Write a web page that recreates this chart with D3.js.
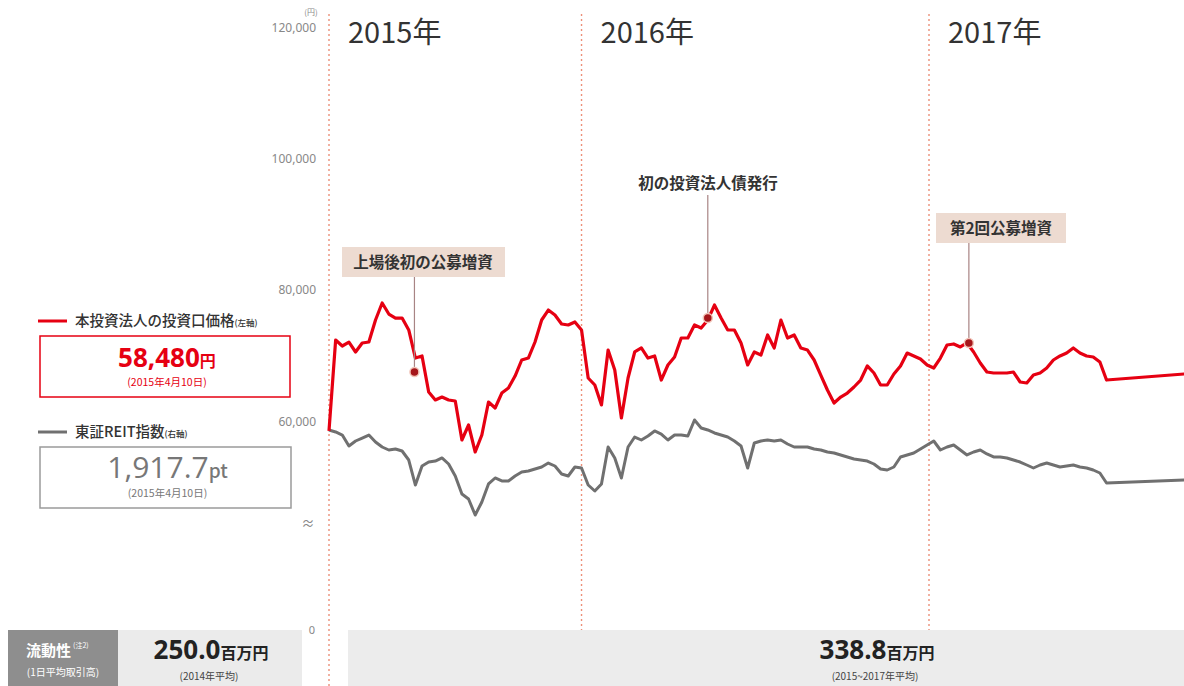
<!DOCTYPE html>
<html><head><meta charset="utf-8">
<script src="https://cdn.jsdelivr.net/npm/d3@7"></script>
<style>
body{margin:0;background:#fff;}
svg{display:block;font-family:"Noto Sans CJK JP","Noto Sans",sans-serif;}
</style></head><body>
<svg id="c" width="1184" height="686"></svg>
<script>
// ---------- data ----------
const dates = [
"2015-04-10","2015-04-17","2015-04-24","2015-05-01","2015-05-08","2015-05-15","2015-05-22","2015-05-29","2015-06-05","2015-06-12",
"2015-06-19","2015-06-26","2015-07-03","2015-07-10","2015-07-17","2015-07-24","2015-07-31","2015-08-07","2015-08-14","2015-08-21",
"2015-08-28","2015-09-04","2015-09-11","2015-09-18","2015-09-25","2015-10-02","2015-10-09","2015-10-16","2015-10-23","2015-10-30",
"2015-11-06","2015-11-13","2015-11-20","2015-11-27","2015-12-04","2015-12-11","2015-12-18","2015-12-25","2016-01-01","2016-01-08",
"2016-01-15","2016-01-22","2016-01-29","2016-02-05","2016-02-12","2016-02-19","2016-02-26","2016-03-04","2016-03-11","2016-03-18",
"2016-03-25","2016-04-01","2016-04-08","2016-04-15","2016-04-22","2016-04-29","2016-05-06","2016-05-13","2016-05-20","2016-05-27",
"2016-06-03","2016-06-10","2016-06-17","2016-06-24","2016-07-01","2016-07-08","2016-07-15","2016-07-22","2016-07-29","2016-08-05",
"2016-08-12","2016-08-19","2016-08-26","2016-09-02","2016-09-09","2016-09-16","2016-09-23","2016-09-30","2016-10-07","2016-10-14",
"2016-10-21","2016-10-28","2016-11-04","2016-11-11","2016-11-18","2016-11-25","2016-12-02","2016-12-09","2016-12-16","2016-12-23",
"2016-12-30","2017-01-06","2017-01-13","2017-01-20","2017-01-27","2017-02-03","2017-02-10","2017-02-17","2017-02-24","2017-03-03",
"2017-03-10","2017-03-17","2017-03-24","2017-03-31","2017-04-07","2017-04-14","2017-04-21","2017-04-28","2017-05-05","2017-05-12",
"2017-05-19","2017-05-26","2017-06-02","2017-06-09","2017-06-16","2017-06-23","2017-06-30","2017-07-07","2017-10-06"
];
// 本投資法人の投資口価格 (円, left axis)
const unitPrice = [
58480,72330,71420,72000,70510,71880,72030,75380,77970,76290,
75680,75680,73860,69590,69900,64420,63200,63650,63200,63050,
57110,59390,55280,57870,62890,61980,64260,65030,66850,69290,
69590,72030,75380,76900,76140,74770,74620,75080,73860,66550,
65480,62440,70810,67770,60460,66550,70510,71120,69590,69900,
66240,68530,69750,72640,72640,74620,74160,75380,77660,75680,
73860,73860,71880,68530,70510,70050,73100,71120,75380,72640,
73100,71120,70810,69290,67000,64720,62740,63650,64260,65180,
66240,68380,67310,65480,65480,67160,68380,70350,69900,69440,
68530,68070,69590,71570,71730,71270,71880,70510,68830,67460,
67310,67310,67310,67460,65940,65790,67000,67310,68070,69290,
69900,70350,71120,70350,69900,69750,68980,66240,67260
];
// 東証REIT指数 (pt, right axis)
const reitIndex = [
1917.7,1910.4,1899.5,1859.9,1877.9,1888.7,1899.5,1874.3,1856.3,1845.5,
1849.1,1841.9,1809.4,1719.3,1787.8,1802.2,1805.8,1816.7,1795.0,1751.8,
1686.9,1668.9,1611.2,1658.1,1723.0,1744.6,1733.8,1733.8,1751.8,1766.2,
1769.8,1777.0,1784.2,1798.6,1787.8,1759.0,1751.8,1784.2,1780.6,1719.3,
1697.7,1723.0,1856.3,1816.7,1744.6,1856.3,1892.3,1881.5,1895.9,1914.0,
1903.1,1881.5,1899.5,1899.5,1895.9,1953.6,1924.8,1917.6,1906.8,1899.5,
1892.3,1877.9,1859.9,1780.6,1870.7,1877.9,1881.5,1877.9,1881.5,1867.1,
1856.3,1856.3,1856.3,1849.1,1845.5,1838.3,1834.7,1827.5,1820.3,1813.0,
1809.4,1805.8,1795.0,1777.0,1773.4,1784.2,1820.3,1827.5,1834.7,1849.1,
1863.5,1877.9,1845.5,1856.3,1863.5,1845.5,1827.5,1838.3,1845.5,1831.1,
1820.3,1820.3,1816.7,1809.4,1802.2,1791.4,1780.6,1791.4,1798.6,1791.4,
1784.2,1787.8,1791.4,1784.2,1780.6,1773.4,1762.6,1726.6,1738.6
];
const yTicks = [60000, 80000, 100000, 120000];
const yUnit = "(円)";
const yearStarts = ["2015-04-10", "2016-01-01", "2017-01-01"];
const yearLabels = ["2015年", "2016年", "2017年"];
const eventLabels = ["上場後初の公募増資", "初の投資法人債発行", "第2回公募増資"];
const eventDates = ["2015-07-09", "2016-05-13", "2017-02-12"];
const eventValues = [67460, 75680, 71880];
const legendNames = ["本投資法人の投資口価格", "東証REIT指数"];
const legendAxes = ["(左軸)", "(右軸)"];
const legendValues = ["58,480", "1,917.7"];
const legendUnits = ["円", "pt"];
const legendDate = "(2015年4月10日)";
const liquidityTitle = ["流動性", "(注2)", "(1日平均取引高)"];
const liquidityValues = ["250.0", "338.8"];
const liquidityUnit = "百万円";
const liquidityPeriods = ["(2014年平均)", "(2015~2017年平均)"];

// ---------- drawing ----------
const parse = d3.timeParse("%Y-%m-%d");
const svg = d3.select("#c");
const RED = "#e60012", GRAY = "#707070";

const x = d3.scaleTime().domain([parse("2015-04-10"), parse("2017-01-01")]).range([329, 929]);
const y = d3.scaleLinear().domain([60000, 120000]).range([421, 27]);
const yR = d3.scaleLinear().domain([1950, 3370]).range([421, 27]);

// year separators
svg.append("g").selectAll("line").data(yearStarts).join("line")
  .attr("x1", d => x(parse(d))).attr("x2", d => x(parse(d)))
  .attr("y1", 14).attr("y2", 686)
  .attr("stroke", "#ec8f78").attr("stroke-width", 1.4).attr("stroke-dasharray", "2,3");

svg.append("g").selectAll("text").data(yearLabels).join("text")
  .attr("x", (d, i) => x(parse(yearStarts[i])) + 19).attr("y", 43)
  .attr("font-size", 29).attr("fill", "#333").text(d => d);

// axis
const ax = svg.append("g").attr("transform", "translate(319,0)")
  .call(d3.axisLeft(y).tickValues(yTicks).tickSize(0).tickPadding(3).tickFormat(d3.format(",")));
ax.select(".domain").remove();
ax.selectAll("text").attr("font-size", 12).attr("fill", "#888")
  .attr("font-family", "'Noto Sans',sans-serif").attr("dy", "0.35em");
svg.append("text").attr("x", 311).attr("y", 15).attr("text-anchor", "middle")
  .attr("font-size", 8).attr("fill", "#888").text(yUnit);
svg.append("text").attr("x", 308).attr("y", 528).attr("text-anchor", "middle")
  .attr("font-size", 13).attr("fill", "#888").text("≈");
svg.append("text").attr("x", 312).attr("y", 634).attr("text-anchor", "middle")
  .attr("font-size", 11).attr("fill", "#888").attr("font-family", "'Noto Sans',sans-serif").text("0");

// lines
const grayData = dates.map((d, i) => ({ d: parse(d), v: reitIndex[i] }));
const redData = dates.map((d, i) => ({ d: parse(d), v: unitPrice[i] }));
svg.append("path").datum(grayData)
  .attr("d", d3.line().x(p => x(p.d)).y(p => yR(p.v)))
  .attr("fill", "none").attr("stroke", GRAY).attr("stroke-width", 3).attr("stroke-linejoin", "round");
svg.append("path").datum(redData)
  .attr("d", d3.line().x(p => x(p.d)).y(p => y(p.v)))
  .attr("fill", "none").attr("stroke", RED).attr("stroke-width", 3.2).attr("stroke-linejoin", "round");

// events
const evLayout = [
  { cx: 423, cy: 262, box: [342, 247, 163, 30] },
  { cx: 708, cy: 183, box: null },
  { cx: 1001, cy: 228, box: [936, 213, 130, 30] }
];
eventLabels.forEach((lab, i) => {
  const L = evLayout[i];
  const ex = x(parse(eventDates[i])), ey = y(eventValues[i]);
  const top = L.box ? L.box[1] + L.box[3] : L.cy + 12;
  svg.append("line").attr("x1", ex).attr("x2", ex).attr("y1", top).attr("y2", ey)
    .attr("stroke", "#a88484").attr("stroke-width", 1.2);
  if (L.box) svg.append("rect").attr("x", L.box[0]).attr("y", L.box[1])
    .attr("width", L.box[2]).attr("height", L.box[3]).attr("fill", "#eddbd1");
  svg.append("text").attr("x", L.cx).attr("y", L.cy).attr("dy", "0.36em")
    .attr("text-anchor", "middle").attr("font-size", 15.5).attr("font-weight", 700)
    .attr("fill", "#333").text(lab);
  svg.append("circle").attr("cx", ex).attr("cy", ey).attr("r", 4.5)
    .attr("fill", "#a5161b").attr("stroke", "#f2c4b8").attr("stroke-width", 1.5);
});

// legend
const legY = [321, 432];
const legCol = [RED, "#777"];
const boxes = [[40, 336, 250, 61], [40, 447, 251, 61]];
legendNames.forEach((nm, i) => {
  svg.append("line").attr("x1", 38).attr("x2", 67).attr("y1", legY[i]).attr("y2", legY[i])
    .attr("stroke", i ? GRAY : RED).attr("stroke-width", 3);
  const t = svg.append("text").attr("x", 75).attr("y", legY[i]).attr("dy", "0.36em")
    .attr("font-size", 14.5).attr("font-weight", 500).attr("fill", "#333");
  t.append("tspan").text(nm);
  t.append("tspan").attr("font-size", 8.5).text(legendAxes[i]);
  const b = boxes[i];
  svg.append("rect").attr("x", b[0]).attr("y", b[1]).attr("width", b[2]).attr("height", b[3])
    .attr("fill", "#fff").attr("stroke", i ? "#9a9a9a" : RED).attr("stroke-width", 1.5);
  const v = svg.append("text").attr("x", b[0] + b[2] / 2 + 2).attr("y", b[1] + 31)
    .attr("text-anchor", "middle").attr("fill", legCol[i]).attr("font-family", "'Open Sans','Noto Sans',sans-serif");
  v.append("tspan").attr("font-size", i ? 30 : 26).attr("font-weight", i ? 500 : 700).text(legendValues[i]);
  v.append("tspan").attr("font-size", i ? 19 : 16).attr("font-weight", i ? 500 : 700)
    .attr("font-family", "'Noto Sans CJK JP',sans-serif").text(legendUnits[i]);
  svg.append("text").attr("x", b[0] + b[2] / 2 + 2).attr("y", b[1] + 50)
    .attr("text-anchor", "middle").attr("font-size", 10.5).attr("fill", legCol[i]).text(legendDate);
});

// liquidity band
svg.append("rect").attr("x", 8).attr("y", 630).attr("width", 110).attr("height", 56).attr("fill", "#8e8e8e");
svg.append("rect").attr("x", 118).attr("y", 630).attr("width", 184).attr("height", 56).attr("fill", "#ebebeb");
svg.append("rect").attr("x", 348).attr("y", 630).attr("width", 836).attr("height", 56).attr("fill", "#ececec");
const lt = svg.append("text").attr("x", 26).attr("y", 656).attr("fill", "#fff");
lt.append("tspan").attr("font-size", 15).attr("font-weight", 700).text(liquidityTitle[0]);
lt.append("tspan").attr("font-size", 7).attr("dy", -8).attr("dx", 2).text(liquidityTitle[1]);
svg.append("text").attr("x", 63).attr("y", 676).attr("text-anchor", "middle")
  .attr("font-size", 10).attr("fill", "#fff").text(liquidityTitle[2]);
const bandCx = [211, 877];
liquidityValues.forEach((v, i) => {
  const t = svg.append("text").attr("x", bandCx[i]).attr("y", 659).attr("text-anchor", "middle").attr("fill", "#222");
  t.append("tspan").attr("font-size", 26).attr("font-weight", 700)
    .attr("font-family", "'Open Sans','Noto Sans',sans-serif").text(v);
  t.append("tspan").attr("font-size", 16).attr("font-weight", 700).text(liquidityUnit);
  svg.append("text").attr("x", bandCx[i] - 2).attr("y", 680).attr("text-anchor", "middle")
    .attr("font-size", 10).attr("fill", "#444").text(liquidityPeriods[i]);
});
</script>
</body></html>
